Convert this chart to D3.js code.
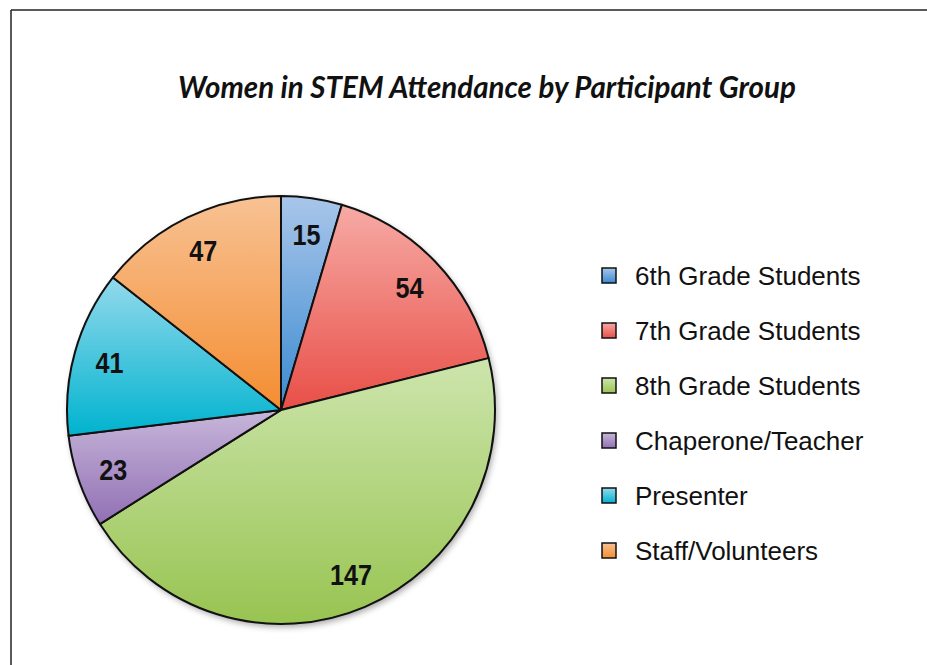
<!DOCTYPE html>
<html>
<head>
<meta charset="utf-8">
<script src="https://cdn.jsdelivr.net/npm/d3@7"></script>
<style>
  body { margin: 0; background: #fff; }
  svg { display: block; }
</style>
</head>
<body>
<div id="container"></div>
<script>
// data
var groups = ["6th Grade Students", "7th Grade Students", "8th Grade Students",
              "Chaperone/Teacher", "Presenter", "Staff/Volunteers"];
var counts = [15, 54, 147, 23, 41, 47];
var lightColors = ["#a9c6ea", "#f7aaa5", "#cde5ad", "#c7b6da", "#93d9ec", "#f8c294"];
var darkColors  = ["#3a8ad0", "#e84f47", "#98c451", "#9170b4", "#00b3cf", "#f48d31"];
var titleText = "Women in STEM Attendance by Participant Group";

const width = 927;
const height = 665;
const cx = 281, cy = 410, radius = 214;

const svg = d3.select("div#container").append("svg")
    .attr("width", width)
    .attr("height", height);

const defs = svg.append("defs");

// per slice vertical gradients
groups.forEach(function(g, i) {
  const grad = defs.append("linearGradient")
      .attr("id", "grad-" + i)
      .attr("x1", 0).attr("y1", 0).attr("x2", 0).attr("y2", 1);
  grad.append("stop").attr("offset", "0%").attr("stop-color", lightColors[i]);
  grad.append("stop").attr("offset", "100%").attr("stop-color", darkColors[i]);
});

const shadow = defs.append("filter")
    .attr("id", "shadow")
    .attr("x", "-10%").attr("y", "-10%")
    .attr("width", "125%").attr("height", "125%");
shadow.append("feDropShadow")
    .attr("dx", 2).attr("dy", 3)
    .attr("stdDeviation", 3)
    .attr("flood-color", "#000")
    .attr("flood-opacity", 0.35);

//----------------------------FRAME-----------------------------//
svg.append("line")
    .attr("x1", 11).attr("y1", 10).attr("x2", width).attr("y2", 10)
    .attr("stroke", "#222").attr("stroke-width", 1.5);
svg.append("line")
    .attr("x1", 11).attr("y1", 10).attr("x2", 11).attr("y2", height)
    .attr("stroke", "#222").attr("stroke-width", 1.5);

//----------------------------TITLE-----------------------------//
svg.append("text")
    .attr("x", 487)
    .attr("y", 98)
    .attr("text-anchor", "middle")
    .style("font-family", "Lato, 'Open Sans', sans-serif")
    .style("font-weight", "bold")
    .style("font-style", "italic")
    .style("font-size", "29.5px")
    .attr("fill", "#111")
    .text(titleText);

//-----------------------------PIE------------------------------//
const pie = d3.pie().sort(null).value(function(d) { return d; });
const arc = d3.arc().innerRadius(0).outerRadius(radius);
const labelArc = d3.arc().innerRadius(178).outerRadius(178);

const pieG = svg.append("g")
    .attr("transform", "translate(" + cx + "," + cy + ")");

pieG.append("circle")
    .attr("r", radius)
    .attr("fill", "#fff")
    .attr("filter", "url(#shadow)");

pieG.selectAll("path.slice")
    .data(pie(counts))
    .enter()
    .append("path")
    .attr("class", "slice")
    .attr("d", arc)
    .attr("fill", function(d, i) { return "url(#grad-" + i + ")"; })
    .attr("stroke", "#111")
    .attr("stroke-width", 2)
    .attr("stroke-linejoin", "round");

// condensed bold labels
pieG.selectAll("text.val")
    .data(pie(counts))
    .enter()
    .append("text")
    .attr("class", "val")
    .attr("transform", function(d) {
      return "translate(" + labelArc.centroid(d) + ") scale(0.84,1)";
    })
    .attr("text-anchor", "middle")
    .attr("dy", "0.36em")
    .style("font-family", "'Liberation Sans', Arial, sans-serif")
    .style("font-weight", "bold")
    .style("font-size", "30px")
    .attr("fill", "#111")
    .text(function(d) { return d.data; });

//----------------------------LEGEND----------------------------//
const legend = svg.append("g")
    .attr("transform", "translate(602,268)");

const items = legend.selectAll("g.item")
    .data(groups)
    .enter()
    .append("g")
    .attr("class", "item")
    .attr("transform", function(d, i) { return "translate(0," + (i * 55) + ")"; });

items.append("rect")
    .attr("width", 14)
    .attr("height", 15)
    .attr("fill", function(d, i) { return "url(#grad-" + i + ")"; })
    .attr("stroke", "#111")
    .attr("stroke-width", 1.5);

items.append("text")
    .attr("x", 33)
    .attr("y", 8)
    .attr("dy", "0.36em")
    .style("font-family", "'Liberation Sans', Arial, sans-serif")
    .style("font-size", "26px")
    .attr("fill", "#111")
    .text(function(d) { return d; });
</script>
</body>
</html>
